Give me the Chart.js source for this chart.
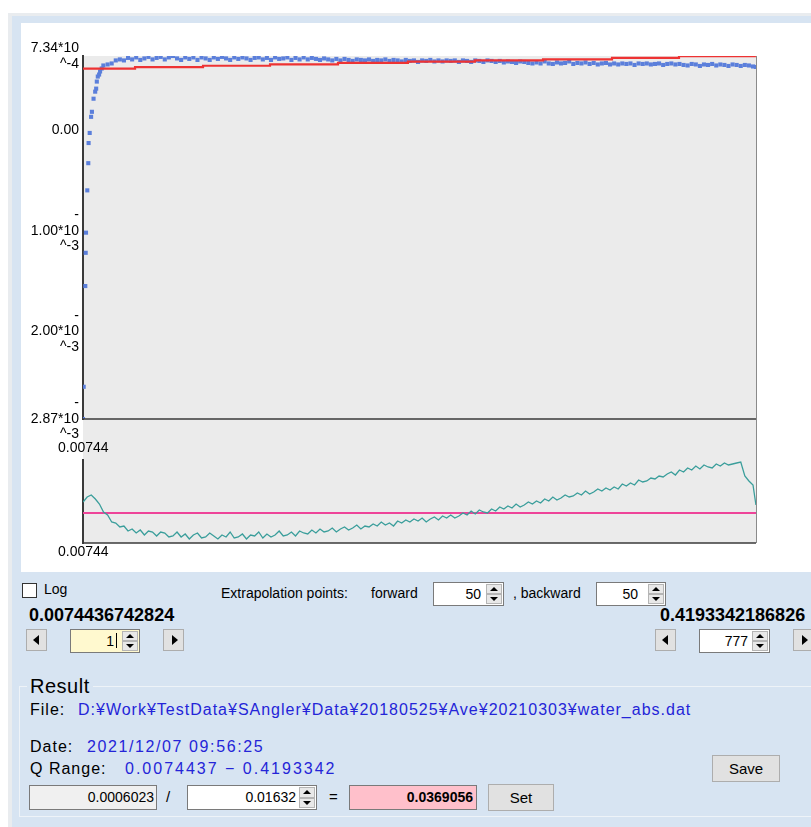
<!DOCTYPE html>
<html>
<head>
<meta charset="utf-8">
<script src="https://cdn.jsdelivr.net/npm/chart.js@4.4.0/dist/chart.umd.min.js"></script>
<style>
body{margin:0;width:811px;height:827px;overflow:hidden;position:relative;background:#fff;font-family:"Liberation Sans",Arial,sans-serif;font-size:14px;color:#000}
.abs{position:absolute}
.t{position:absolute;white-space:nowrap;line-height:18px}
.blue{color:#2424d8}
.box{position:absolute;box-sizing:border-box;border:1px solid #7a7a7a;background:#fff;font-family:"Liberation Sans",Arial,sans-serif;font-size:14px;text-align:right;line-height:22px;white-space:nowrap}
.sp{position:absolute;right:1px;top:1px;bottom:1px;width:16px}
.sp b{position:absolute;left:0;right:0;height:50%;box-sizing:border-box;border:1px solid #b5b5b5;background:#e8e8e8}
.sp .up{top:0}.sp .dn{bottom:0}
.sp b::after{content:"";position:absolute;left:50%;top:50%;margin-left:-4px;margin-top:-2px;border-left:4px solid transparent;border-right:4px solid transparent}
.sp .up::after{border-bottom:4px solid #000}
.sp .dn::after{border-top:4px solid #000}
.ab{position:absolute;box-sizing:border-box;width:21px;height:22px;border:1px solid #adadad;background:#e1e1e1}
.ab::after{content:"";position:absolute;top:50%;left:50%;margin-top:-5px;border-top:5px solid transparent;border-bottom:5px solid transparent}
.ab.l::after{border-right:6px solid #000;margin-left:-4px}
.ab.r::after{border-left:6px solid #000;margin-left:-2px}
.btn{position:absolute;box-sizing:border-box;border:1px solid #adadad;background:#e1e1e1;text-align:center;font-size:15px;line-height:25px}
canvas{position:absolute}
</style>
</head>
<body>
<div class="abs" style="left:8px;top:13px;width:803px;height:814px;background:#e9ecef"></div>
<div class="abs" style="left:12px;top:16px;width:799px;height:811px;background:#d7e4f2"></div>
<div class="abs" style="left:21px;top:23px;width:790px;height:549px;background:#fff"></div>

<canvas id="cLow" width="790" height="141" style="left:21px;top:419px;z-index:1"></canvas>
<canvas id="cTop" width="790" height="427" style="left:21px;top:23px;z-index:2"></canvas>

<!-- controls -->
<div class="abs" style="left:22px;top:583px;width:15px;height:15px;box-sizing:border-box;border:1px solid #333;background:#fff"></div>
<div class="t" style="left:44px;top:580px">Log</div>
<div class="t" style="left:221px;top:584px">Extrapolation points:</div>
<div class="t" style="left:371px;top:584px">forward</div>
<div class="box" style="left:433px;top:582px;width:71px;height:24px;padding-right:22px">50<div class="sp"><b class="up"></b><b class="dn"></b></div></div>
<div class="t" style="left:513px;top:584px">, backward</div>
<div class="box" style="left:596px;top:582px;width:70px;height:24px;padding-right:27px">50<div class="sp"><b class="up"></b><b class="dn"></b></div></div>

<div class="t" style="left:29px;top:605px;font-weight:bold;font-size:18px;line-height:20px">0.0074436742824</div>
<div class="t" style="left:660px;top:605px;font-weight:bold;font-size:18px;line-height:20px">0.4193342186826</div>

<div class="ab l" style="left:26px;top:629px"></div>
<div class="box" style="left:70px;top:629px;width:70px;height:24px;padding-right:22px;background:#fff9cf">1<span style="display:inline-block;width:1px;height:15px;background:#000;margin-left:2px;vertical-align:-2px"></span><div class="sp"><b class="up"></b><b class="dn"></b></div></div>
<div class="ab r" style="left:163px;top:629px"></div>

<div class="ab l" style="left:655px;top:629px"></div>
<div class="box" style="left:699px;top:629px;width:71px;height:24px;padding-right:21px">777<div class="sp"><b class="up"></b><b class="dn"></b></div></div>
<div class="ab r" style="left:793px;top:629px"></div>

<!-- result group -->
<div class="abs" style="left:19px;top:686px;width:800px;height:131px;box-sizing:border-box;border:1px solid #eef3f8"></div>
<div class="t" style="left:27px;top:674px;font-size:20px;line-height:24px;padding:0 3px;background:#d7e4f2;letter-spacing:0.5px">Result</div>
<div class="t" style="left:30px;top:701px;font-size:16px;letter-spacing:1px">File:</div>
<div class="t blue" style="left:78px;top:701px;font-size:16px;letter-spacing:1px">D:¥Work¥TestData¥SAngler¥Data¥20180525¥Ave¥20210303¥water_abs.dat</div>
<div class="t" style="left:30px;top:738px;font-size:16px;letter-spacing:1px">Date:</div>
<div class="t blue" style="left:87px;top:738px;font-size:16px;letter-spacing:1.6px">2021/12/07 09:56:25</div>
<div class="t" style="left:30px;top:760px;font-size:16px;letter-spacing:1px">Q Range:</div>
<div class="t blue" style="left:125px;top:760px;font-size:16px;letter-spacing:2px">0.0074437 − 0.4193342</div>

<div class="btn" style="left:712px;top:755px;width:68px;height:27px">Save</div>
<div class="box" style="left:29px;top:785px;width:128px;height:25px;padding-right:2px;background:#f0f0f0">0.0006023</div>
<div class="t" style="left:166px;top:788px;font-size:15px">/</div>
<div class="box" style="left:187px;top:785px;width:130px;height:25px;padding-right:20px">0.01632<div class="sp"><b class="up"></b><b class="dn"></b></div></div>
<div class="t" style="left:329px;top:788px;font-size:15px">=</div>
<div class="box" style="left:349px;top:785px;width:128px;height:25px;padding-right:3px;background:#ffc0cb;font-weight:bold">0.0369056</div>
<div class="btn" style="left:488px;top:784px;width:66px;height:27px">Set</div>

<script>
const FONT = '"Liberation Sans",Arial,sans-serif';

// Q range (x axis), shared by both panels
const qMin = 0.0074437;
const qMax = 0.4193342;

// sampling grid
const qGrid = [
  0.0075,0.01,0.0125,0.015,0.0175,0.02,0.0225,0.025,0.0275,0.03,
  0.0325,0.035,0.0375,0.04,0.0425,0.045,0.0475,0.05,0.0525,0.055,
  0.0575,0.06,0.0625,0.065,0.0675,0.07,0.0725,0.075,0.0775,0.08,
  0.0825,0.085,0.0875,0.09,0.0925,0.095,0.0975,0.1,0.1025,0.105,
  0.1075,0.11,0.1125,0.115,0.1175,0.12,0.1225,0.125,0.1275,0.13,
  0.1325,0.135,0.1375,0.14,0.1425,0.145,0.1475,0.15,0.1525,0.155,
  0.1575,0.16,0.1625,0.165,0.1675,0.17,0.1725,0.175,0.1775,0.18,
  0.1825,0.185,0.1875,0.19,0.1925,0.195,0.1975,0.2,0.2025,0.205,
  0.2075,0.21,0.2125,0.215,0.2175,0.22,0.2225,0.225,0.2275,0.23,
  0.2325,0.235,0.2375,0.24,0.2425,0.245,0.2475,0.25,0.2525,0.255,
  0.2575,0.26,0.2625,0.265,0.2675,0.27,0.2725,0.275,0.2775,0.28,
  0.2825,0.285,0.2875,0.29,0.2925,0.295,0.2975,0.3,0.3025,0.305,
  0.3075,0.31,0.3125,0.315,0.3175,0.32,0.3225,0.325,0.3275,0.33,
  0.3325,0.335,0.3375,0.34,0.3425,0.345,0.3475,0.35,0.3525,0.355,
  0.3575,0.36,0.3625,0.365,0.3675,0.37,0.3725,0.375,0.3775,0.38,
  0.3825,0.385,0.3875,0.39,0.3925,0.395,0.3975,0.4,0.4025,0.405,
  0.4075,0.41,0.4125,0.415,0.4175,0.4193
];

// top panel: measured data (units of 1e-4)
const blueEarlyQ = [0.00744,0.00787,0.00885,0.00909,0.00928,0.01007,0.01068,0.01087,0.01154,0.0124,
  0.0129,0.0139,0.0149,0.0155,0.0159,0.0165,0.0173,0.0179,0.0189,0.0199];
const blueEarlyAbs = [-28.7,-25.5,-15.5,-12.2,-10.2,-6.0,-3.3,-1.3,-0.3,1.3,
  1.8,3.1,3.8,4.1,4.8,5.3,5.5,5.8,6.1,6.4];
const blueGridAbs = [
  6.5,6.6,6.9,7.0,
  6.9,7.15,7.0,7.2,6.95,7.1,7.25,7.0,7.15,7.25,
  7.0,7.2,7.34,7.1,6.95,7.2,7.05,7.2,6.95,7.2,
  7.1,6.95,7.2,7.05,7.25,7.1,6.95,7.2,7.05,7.2,
  7.1,6.95,7.15,7.2,7.0,7.15,6.95,7.2,7.05,7.1,
  7.2,6.95,7.15,7.0,7.2,7.0,7.15,7.05,6.95,7.1,
  7.0,6.9,7.05,6.9,7.05,6.95,6.85,7.0,6.95,6.9,
  7.0,6.85,6.95,6.9,7.0,6.85,6.95,6.9,6.8,6.95,
  6.85,6.9,6.75,6.9,6.85,6.95,6.8,6.9,6.8,6.9,
  6.85,6.9,6.75,6.9,6.85,6.75,6.9,6.85,6.75,6.9,
  6.85,6.75,6.85,6.7,6.8,6.75,6.65,6.8,6.75,6.65,
  6.6,6.7,6.6,6.8,6.6,6.55,6.7,6.6,6.65,6.8,
  6.55,6.65,6.6,6.7,6.55,6.65,6.5,6.6,6.65,6.5,
  6.6,6.5,6.6,6.55,6.6,6.45,6.6,6.55,6.6,6.5,
  6.55,6.6,6.45,6.55,6.6,6.5,6.55,6.45,6.4,6.55,
  6.5,6.35,6.5,6.45,6.55,6.4,6.5,6.45,6.35,6.5,
  6.45,6.35,6.45,6.4,6.3,6.25
];

// top panel: stepped fit line
const redQ = [0.00744,0.0393,0.0809,0.1219,0.1635,0.2063,0.2473,0.2890,0.3312,0.3722,0.4138,0.4193];
const redAbs = [5.99,6.09,6.24,6.37,6.50,6.66,6.78,6.90,7.00,7.16,7.33,7.33];

const absTicks = [7.34, 0, -10, -20, -28.7];
const absTickLabels = [['7.34*10','^-4'], '0.00', ['-','1.00*10','^-3'], ['-','2.00*10','^-3'], ['-','2.87*10','^-3']];

// bottom panel: residual trace and reference level
const residual = [
  1.1,1.6,1.8,1.4,0.9,0.1,-0.2,-0.9,-1.0,-1.4,
  -1.3,-1.8,-1.6,-2.0,-1.7,-2.2,-1.8,-1.9,-2.3,-1.9,
  -2.0,-2.4,-2.3,-1.9,-2.4,-2.1,-2.6,-2.2,-2.0,-2.5,
  -2.4,-2.0,-2.3,-2.6,-2.2,-2.4,-1.9,-2.5,-2.4,-2.1,
  -2.6,-2.2,-2.3,-1.9,-2.5,-2.1,-2.4,-2.2,-1.8,-2.3,
  -2.2,-1.9,-2.3,-1.8,-2.0,-2.1,-1.7,-2.0,-1.6,-1.9,
  -1.8,-1.5,-1.9,-1.6,-1.4,-1.7,-1.5,-1.2,-1.6,-1.3,
  -1.4,-1.1,-1.3,-0.9,-1.2,-1.0,-1.3,-0.8,-1.0,-0.7,
  -0.9,-0.6,-0.8,-0.5,-0.9,-0.6,-0.4,-0.7,-0.3,-0.5,
  -0.2,-0.5,-0.3,0.0,-0.2,0.2,-0.1,0.3,0.1,0.0,
  0.4,0.2,0.6,0.4,0.7,0.5,0.9,0.6,0.8,1.1,
  0.9,1.2,1.0,1.4,1.2,1.6,1.3,1.5,1.8,1.6,
  1.7,2.0,1.8,2.2,1.9,2.1,2.4,2.2,2.5,2.3,
  2.6,2.4,2.9,2.7,3.0,2.8,3.3,3.1,3.2,3.5,
  3.4,3.7,3.6,3.9,4.1,3.8,4.3,4.1,4.5,4.3,
  4.7,4.4,4.8,4.6,4.5,4.9,4.7,5.0,4.8,4.9,
  5.0,5.1,3.7,3.2,2.8,0.8
];
const refQ = [qMin, qMax];
const refLevel = [0, 0];
const resTickLabels = ['0.00744', '0.00744'];

const blueQ = blueEarlyQ.concat(qGrid.slice(6));
const blueAbs = blueEarlyAbs.concat(blueGridAbs);
const pts = (xs, ys) => xs.map((x, i) => ({ x: x, y: ys[i] }));

Chart.defaults.font.family = FONT;
Chart.defaults.color = '#000';

// grey plot background, bottom rule and right border
const frame = {
  id: 'frame',
  beforeDraw(chart, args, opts) {
    const a = chart.chartArea, ctx = chart.ctx;
    ctx.save();
    ctx.fillStyle = '#ebebeb';
    const top = opts.fromTop ? 0 : a.top;
    ctx.fillRect(a.left, top, a.right - a.left, a.bottom - top);
    ctx.restore();
  },
  afterDraw(chart, args, opts) {
    const a = chart.chartArea, ctx = chart.ctx;
    const top = opts.fromTop ? 0 : a.top;
    ctx.save();
    ctx.strokeStyle = '#8a8a8a';
    ctx.lineWidth = 1;
    ctx.beginPath();
    ctx.moveTo(a.right + 0.5, top);
    ctx.lineTo(a.right + 0.5, a.bottom);
    ctx.stroke();
    ctx.strokeStyle = '#3a3a3a';
    ctx.lineWidth = 1.6;
    ctx.beginPath();
    ctx.moveTo(a.left, a.bottom);
    ctx.lineTo(a.right, a.bottom);
    ctx.stroke();
    if (opts.labels) {
      const y = chart.scales.y;
      ctx.fillStyle = '#000';
      ctx.font = '14px ' + FONT;
      ctx.textAlign = 'left';
      ctx.textBaseline = 'middle';
      ctx.fillText(opts.labels[0], a.left - 25, y.top - 12);
      ctx.fillText(opts.labels[1], a.left - 25, y.bottom + 9);
    }
    ctx.restore();
  }
};

new Chart(document.getElementById('cTop'), {
  type: 'scatter',
  data: {
    datasets: [
      { type: 'line', data: pts(redQ, redAbs), borderColor: '#ee3333', borderWidth: 2.2, stepped: 'after', pointRadius: 0, fill: false },
      { data: pts(blueQ, blueAbs), backgroundColor: '#5b7fdb', borderWidth: 0, pointStyle: 'rect', pointRadius: 2.9 }
    ]
  },
  options: {
    responsive: false, animation: false, devicePixelRatio: 1,
    layout: { padding: { left: 0, top: 33, right: 55, bottom: 31 } },
    plugins: { legend: { display: false }, tooltip: { enabled: false }, frame: {} },
    scales: {
      x: { type: 'linear', min: qMin, max: qMax, display: false },
      y: {
        min: -28.7, max: 7.34,
        grid: { display: false, drawTicks: false },
        border: { display: true, color: '#3a3a3a', width: 2 },
        afterBuildTicks: s => { s.ticks = absTicks.map(v => ({ value: v })); },
        afterFit: s => { s.width = 62; s.paddingTop = 0; s.paddingBottom = 0; },
        ticks: {
          autoSkip: false, padding: 4, color: '#000',
          font: { size: 14, lineHeight: 1.1 },
          callback: v => absTickLabels[absTicks.indexOf(v)]
        }
      }
    }
  },
  plugins: [frame]
});

new Chart(document.getElementById('cLow'), {
  type: 'line',
  data: {
    datasets: [
      { data: pts(qGrid, residual), borderColor: '#3a9e9b', borderWidth: 1.3, pointRadius: 0, tension: 0 },
      { data: pts(refQ, refLevel), borderColor: '#ee4499', borderWidth: 2.2, pointRadius: 0 }
    ]
  },
  options: {
    responsive: false, animation: false, devicePixelRatio: 1,
    layout: { padding: { left: 0, top: 41, right: 55, bottom: 17 } },
    plugins: { legend: { display: false }, tooltip: { enabled: false }, frame: { fromTop: true, labels: resTickLabels } },
    scales: {
      x: { type: 'linear', min: qMin, max: qMax, display: false },
      y: {
        min: -3.0, max: 5.3,
        grid: { display: false, drawTicks: false },
        border: { display: true, color: '#3a3a3a', width: 2 },
        ticks: { display: false },
        afterFit: s => { s.width = 62; s.paddingTop = 0; s.paddingBottom = 0; }
      }
    }
  },
  plugins: [frame]
});
</script>
</body>
</html>
